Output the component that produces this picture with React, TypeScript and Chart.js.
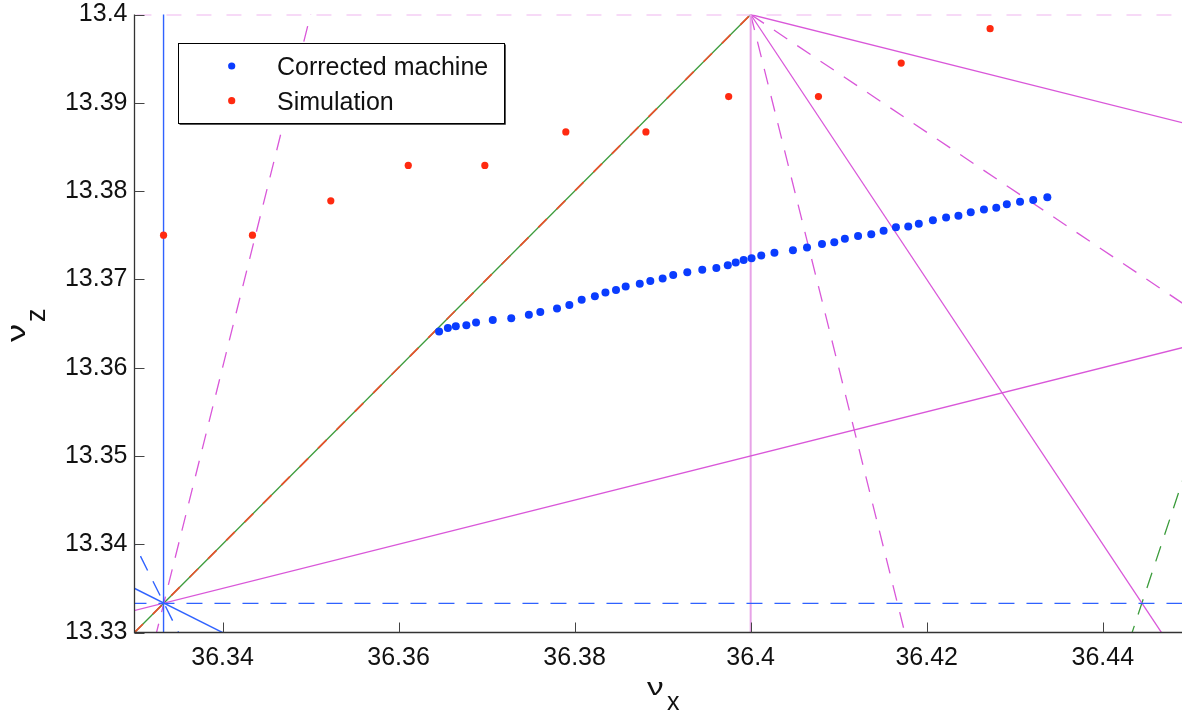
import { useEffect, useRef } from 'react';
import { Chart, registerables } from 'chart.js';

Chart.register(...registerables);

// Axis ranges and ticks
const xRange = [36.33, 36.449];
const zRange = [13.33, 13.4];
const xTicks = [36.34, 36.36, 36.38, 36.4, 36.42, 36.44];
const xTickLabels = ['36.34', '36.36', '36.38', '36.4', '36.42', '36.44'];
const zTicks = [13.33, 13.34, 13.35, 13.36, 13.37, 13.38, 13.39, 13.4];
const zTickLabels = ['13.33', '13.34', '13.35', '13.36', '13.37', '13.38', '13.39', '13.4'];

// Series: Corrected machine (blue dots)
const correctedX = [
  36.3646, 36.3656, 36.3665, 36.3677, 36.3688, 36.3707, 36.3728, 36.3748, 36.3761, 36.3780,
  36.3794, 36.3808, 36.3823, 36.3835, 36.3847, 36.3858, 36.3874, 36.3886, 36.3900, 36.3912,
  36.3928, 36.3945, 36.3961, 36.3974, 36.3983, 36.3992, 36.4001, 36.4012, 36.4027, 36.4048,
  36.4064, 36.4081, 36.4095, 36.4107, 36.4122, 36.4137, 36.4151, 36.4165, 36.4179, 36.4191,
  36.4207, 36.4222, 36.4236, 36.4250, 36.4265, 36.4279, 36.4291, 36.4306, 36.4321, 36.4337,
];
const correctedZ = [
  13.3641, 13.3645, 13.3647, 13.3648, 13.3651, 13.3654, 13.3656, 13.3660, 13.3663, 13.3667,
  13.3671, 13.3677, 13.3681, 13.3685, 13.3688, 13.3692, 13.3695, 13.3698, 13.3701, 13.3705,
  13.3708, 13.3711, 13.3713, 13.3716, 13.3719, 13.3722, 13.3724, 13.3727, 13.3730, 13.3733,
  13.3736, 13.3740, 13.3742, 13.3746, 13.3749, 13.3751, 13.3755, 13.3759, 13.3760, 13.3763,
  13.3767, 13.3770, 13.3772, 13.3776, 13.3779, 13.3781, 13.3785, 13.3788, 13.3790, 13.3793,
];

// Series: Simulation (red dots)
const simulationX = [36.3333, 36.3434, 36.3523, 36.3611, 36.3698, 36.3790, 36.3881, 36.3975, 36.4077, 36.4171, 36.4272];
const simulationZ = [13.3750, 13.3750, 13.3789, 13.3829, 13.3829, 13.3867, 13.3867, 13.3907, 13.3907, 13.3945, 13.3984];

// Resonance lines: end points [x1, x2] and [z1, z2]
const resonanceX = [
  [36.3333, 36.3333], // 3νx = 109 (blue solid)
  [36.32, 36.46], // 3νz = 40 (blue dashed)
  [36.32, 36.35], // νx + 2νz = 63 (blue solid)
  [36.325, 36.3375], // 2νx + νz = 86 (blue dashed)
  [36.32, 36.46], // 4νz - νx = 17 (magenta solid)
  [36.33, 36.3525], // 4νx - νz = 132 (magenta dashed)
  [36.32, 36.46], // 5νz = 67 (magenta dashed)
  [36.4, 36.4], // 5νx = 182 (magenta solid)
  [36.4, 36.46], // νx + 4νz = 90 (magenta solid)
  [36.4, 36.46], // 2νx + 3νz = 113 (magenta dashed)
  [36.4, 36.45], // 3νx + 2νz = 136 (magenta solid)
  [36.4, 36.42], // 4νx + νz = 159 (magenta dashed)
  [36.44, 36.46], // 3νx - νz = 96 (green dashed)
  [36.33, 36.4], // νx - νz = 23 (red dashed)
  [36.33, 36.4], // νx - νz = 23 (green solid)
];
const resonanceZ = [
  [13.32, 13.41],
  [13.3333, 13.3333],
  [13.34, 13.325],
  [13.35, 13.325],
  [13.33, 13.365],
  [13.32, 13.41],
  [13.4, 13.4],
  [13.32, 13.41],
  [13.4, 13.385],
  [13.4, 13.36],
  [13.4, 13.325],
  [13.4, 13.32],
  [13.32, 13.38],
  [13.33, 13.4],
  [13.33, 13.4],
];

const legendLabels = ['Corrected machine', 'Simulation'];

const FONT = '"Liberation Sans", Arial, Helvetica, sans-serif';
const BLUE_DOT = '#0a3cff';
const RED_DOT = '#ff2a10';
const BLUE_LINE = '#2f62ff';
const MAG = '#d957d9';
const DASH = [16, 12];

const lineStyles = [
  { color: BLUE_LINE, width: 1.4, dash: [] },
  { color: BLUE_LINE, width: 1.4, dash: DASH },
  { color: BLUE_LINE, width: 1.4, dash: [] },
  { color: BLUE_LINE, width: 1.4, dash: DASH },
  { color: MAG, width: 1.3, dash: [] },
  { color: MAG, width: 1.3, dash: DASH },
  { color: '#f0b6f0', width: 2, dash: [15, 15] },
  { color: '#e7a3e7', width: 2, dash: [] },
  { color: MAG, width: 1.3, dash: [] },
  { color: MAG, width: 1.3, dash: DASH },
  { color: MAG, width: 1.3, dash: [] },
  { color: MAG, width: 1.3, dash: DASH },
  { color: '#3c9c3c', width: 1.3, dash: DASH },
  { color: '#e8502a', width: 1.7, dash: [12, 14] },
  { color: '#3c9c3c', width: 1.3, dash: [] },
];

const decorPlugin = {
  id: 'decor',
  afterDraw(chart: any) {
    const { ctx, chartArea: a, scales } = chart;
    const sx = scales.x;
    const sy = scales.y;
    ctx.save();
    // axis lines
    ctx.setLineDash([]);
    ctx.strokeStyle = '#333';
    ctx.lineWidth = 1.3;
    ctx.beginPath();
    ctx.moveTo(a.left, a.top);
    ctx.lineTo(a.left, a.bottom);
    ctx.lineTo(a.right, a.bottom);
    ctx.stroke();
    // inward tick marks
    ctx.strokeStyle = '#444';
    ctx.lineWidth = 1;
    ctx.beginPath();
    zTicks.forEach((v) => {
      const py = Math.round(sy.getPixelForValue(v)) + 0.5;
      ctx.moveTo(a.left, py);
      ctx.lineTo(a.left + 10, py);
    });
    xTicks.forEach((v) => {
      const px = Math.round(sx.getPixelForValue(v)) + 0.5;
      ctx.moveTo(px, a.bottom);
      ctx.lineTo(px, a.bottom - 10);
    });
    ctx.stroke();

    // legend
    const lx = 178.5, ly = 43.5, lw = 326, lh = 80;
    ctx.fillStyle = '#fff';
    ctx.fillRect(lx, ly, lw, lh);
    ctx.strokeStyle = '#000';
    ctx.lineWidth = 1;
    ctx.strokeRect(lx, ly, lw, lh);
    ctx.strokeStyle = '#555';
    ctx.beginPath();
    ctx.moveTo(lx + 1, ly + lh + 1);
    ctx.lineTo(lx + lw + 1, ly + lh + 1);
    ctx.lineTo(lx + lw + 1, ly + 1);
    ctx.stroke();
    const rows = [66, 100.7];
    const dotColors = [BLUE_DOT, RED_DOT];
    rows.forEach((ry, i) => {
      ctx.fillStyle = dotColors[i];
      ctx.beginPath();
      ctx.arc(231.7, ry, 3.6, 0, Math.PI * 2);
      ctx.fill();
    });
    ctx.fillStyle = '#111';
    ctx.font = `25px ${FONT}`;
    ctx.textBaseline = 'alphabetic';
    ctx.textAlign = 'left';
    ctx.fillText(legendLabels[0], 277, 75);
    ctx.fillText(legendLabels[1], 277, 110);

    // x axis title: ν_x
    ctx.save();
    ctx.translate(647, 695);
    ctx.scale(1.45, 1);
    ctx.font = `23px ${FONT}`;
    ctx.fillText('ν', 0, 0);
    ctx.restore();
    ctx.font = `25px ${FONT}`;
    ctx.fillText('x', 667, 710);

    // y axis title: ν_z (rotated)
    ctx.save();
    ctx.rotate(-Math.PI / 2);
    ctx.save();
    ctx.translate(-342, 25);
    ctx.scale(1.45, 1);
    ctx.font = `25px ${FONT}`;
    ctx.fillText('ν', 0, 0);
    ctx.restore();
    ctx.font = `27px ${FONT}`;
    ctx.fillText('z', -322, 45);
    ctx.restore();

    ctx.restore();
  },
};

export default function App() {
  const ref = useRef<HTMLCanvasElement>(null);

  useEffect(() => {
    const canvas = ref.current;
    if (!canvas) return;

    const dotSets = [
      {
        label: legendLabels[0],
        data: correctedX.map((x, i) => ({ x, y: correctedZ[i] })),
        backgroundColor: BLUE_DOT,
        borderWidth: 0,
        pointRadius: 4,
        showLine: false,
      },
      {
        label: legendLabels[1],
        data: simulationX.map((x, i) => ({ x, y: simulationZ[i] })),
        backgroundColor: RED_DOT,
        borderWidth: 0,
        pointRadius: 3.6,
        showLine: false,
      },
    ];

    const lineSets = resonanceX.map((xs, i) => ({
      label: 'resonance ' + i,
      data: xs.map((x, j) => ({ x, y: resonanceZ[i][j] })),
      showLine: true,
      borderColor: lineStyles[i].color,
      borderWidth: lineStyles[i].width,
      borderDash: lineStyles[i].dash,
      pointRadius: 0,
      tension: 0,
      fill: false,
    }));

    const chart = new Chart(canvas, {
      type: 'scatter',
      data: { datasets: [...dotSets, ...lineSets] as any },
      options: {
        responsive: false,
        animation: false,
        events: [],
        layout: { padding: { top: 14.5, left: 0, right: 0, bottom: 0 } },
        plugins: {
          legend: { display: false },
          tooltip: { enabled: false },
          title: { display: false },
        },
        scales: {
          x: {
            type: 'linear',
            min: xRange[0],
            max: xRange[1],
            grid: { display: false, drawTicks: false },
            border: { display: false },
            afterBuildTicks: (scale: any) => {
              scale.ticks = xTicks.map((v) => ({ value: v }));
            },
            afterFit: (scale: any) => {
              scale.height = 79.5;
              scale.paddingLeft = 0;
              scale.paddingRight = 0;
            },
            ticks: {
              autoSkip: false,
              maxRotation: 0,
              padding: 11,
              color: '#111',
              font: { family: FONT, size: 25, lineHeight: 1.2 },
              callback: (_v: any, i: number) => xTickLabels[i],
            },
          },
          y: {
            type: 'linear',
            min: zRange[0],
            max: zRange[1],
            grid: { display: false, drawTicks: false },
            border: { display: false },
            afterBuildTicks: (scale: any) => {
              scale.ticks = zTicks.map((v) => ({ value: v }));
            },
            afterFit: (scale: any) => {
              scale.width = 134.5;
              scale.paddingTop = 0;
              scale.paddingBottom = 0;
            },
            ticks: {
              autoSkip: false,
              padding: 7,
              color: '#111',
              font: { family: FONT, size: 25, lineHeight: 1 },
              callback: (_v: any, i: number) => zTickLabels[i],
            },
          },
        },
      },
      plugins: [decorPlugin],
    });

    return () => chart.destroy();
  }, []);

  return (
    <div
      style={{
        position: 'fixed',
        left: 0,
        top: 0,
        width: 1186,
        height: 712,
        overflow: 'hidden',
        background: '#fff',
      }}
    >
      <canvas ref={ref} width={1186} height={712} style={{ display: 'block', width: 1186, height: 712 }} />
    </div>
  );
}
